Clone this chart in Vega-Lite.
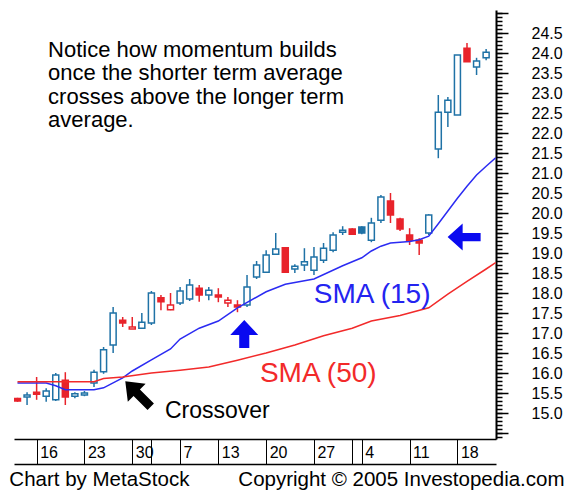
{
  "$schema": "https://vega.github.io/schema/vega-lite/v6.json",
  "width": 482,
  "height": 429,
  "autosize": {"type": "none"},
  "padding": {"left": 14, "top": 10, "right": 73, "bottom": 52},
  "background": "white",
  "config": {"view": {"stroke": null}, "font": "Liberation Sans"},
  "datasets": {
    "candles": [
      {"i": 0, "o": 15.36, "h": 15.38, "l": 15.28, "c": 15.3, "t": "down"},
      {"i": 1, "o": 15.4, "h": 15.52, "l": 15.2, "c": 15.45, "t": "up"},
      {"i": 2, "o": 15.52, "h": 15.9, "l": 15.33, "c": 15.47, "t": "down"},
      {"i": 3, "o": 15.42, "h": 15.62, "l": 15.28, "c": 15.55, "t": "up"},
      {"i": 4, "o": 15.33, "h": 16.0, "l": 15.3, "c": 15.95, "t": "up"},
      {"i": 5, "o": 15.82, "h": 16.02, "l": 15.2, "c": 15.4, "t": "down"},
      {"i": 6, "o": 15.42, "h": 15.52, "l": 15.37, "c": 15.48, "t": "up"},
      {"i": 7, "o": 15.45, "h": 15.55, "l": 15.42, "c": 15.5, "t": "up"},
      {"i": 8, "o": 15.75, "h": 16.08, "l": 15.65, "c": 16.02, "t": "up"},
      {"i": 9, "o": 16.03, "h": 16.65, "l": 15.98, "c": 16.58, "t": "up"},
      {"i": 10, "o": 16.7, "h": 17.65, "l": 16.5, "c": 17.5, "t": "up"},
      {"i": 11, "o": 17.32, "h": 17.4, "l": 17.15, "c": 17.25, "t": "down"},
      {"i": 12, "o": 17.1, "h": 17.4, "l": 17.1, "c": 17.15, "t": "down"},
      {"i": 13, "o": 17.12, "h": 17.5, "l": 17.1, "c": 17.27, "t": "up"},
      {"i": 14, "o": 17.25, "h": 18.05, "l": 17.2, "c": 18.0, "t": "up"},
      {"i": 15, "o": 17.88, "h": 17.95, "l": 17.57, "c": 17.78, "t": "down"},
      {"i": 16, "o": 17.58, "h": 18.0, "l": 17.57, "c": 17.7, "t": "down"},
      {"i": 17, "o": 17.75, "h": 18.15, "l": 17.7, "c": 18.05, "t": "up"},
      {"i": 18, "o": 17.85, "h": 18.35, "l": 17.8, "c": 18.2, "t": "up"},
      {"i": 19, "o": 18.12, "h": 18.2, "l": 17.78, "c": 17.95, "t": "down"},
      {"i": 20, "o": 17.95, "h": 18.15, "l": 17.82, "c": 18.07, "t": "up"},
      {"i": 21, "o": 17.95, "h": 18.12, "l": 17.77, "c": 17.9, "t": "down"},
      {"i": 22, "o": 17.75, "h": 17.9, "l": 17.65, "c": 17.82, "t": "down"},
      {"i": 23, "o": 17.7, "h": 17.82, "l": 17.52, "c": 17.65, "t": "down"},
      {"i": 24, "o": 17.7, "h": 18.45, "l": 17.65, "c": 18.15, "t": "up"},
      {"i": 25, "o": 18.4, "h": 18.8, "l": 18.35, "c": 18.7, "t": "up"},
      {"i": 26, "o": 18.52, "h": 19.07, "l": 18.5, "c": 18.95, "t": "up"},
      {"i": 27, "o": 18.97, "h": 19.5, "l": 18.95, "c": 19.1, "t": "up"},
      {"i": 28, "o": 19.13, "h": 19.15, "l": 18.5, "c": 18.52, "t": "down"},
      {"i": 29, "o": 18.6, "h": 18.72, "l": 18.5, "c": 18.67, "t": "up"},
      {"i": 30, "o": 18.7, "h": 19.12, "l": 18.55, "c": 18.78, "t": "up"},
      {"i": 31, "o": 18.57, "h": 19.15, "l": 18.45, "c": 18.9, "t": "up"},
      {"i": 32, "o": 18.82, "h": 19.25, "l": 18.75, "c": 19.12, "t": "up"},
      {"i": 33, "o": 19.07, "h": 19.52, "l": 19.02, "c": 19.45, "t": "up"},
      {"i": 34, "o": 19.52, "h": 19.67, "l": 19.45, "c": 19.57, "t": "up"},
      {"i": 35, "o": 19.6, "h": 19.62, "l": 19.45, "c": 19.47, "t": "down"},
      {"i": 36, "o": 19.65, "h": 19.67, "l": 19.47, "c": 19.5, "t": "up"},
      {"i": 37, "o": 19.32, "h": 19.88, "l": 19.27, "c": 19.75, "t": "up"},
      {"i": 38, "o": 19.82, "h": 20.45, "l": 19.75, "c": 20.4, "t": "up"},
      {"i": 39, "o": 20.3, "h": 20.5, "l": 19.75, "c": 19.95, "t": "down"},
      {"i": 40, "o": 19.85, "h": 19.88, "l": 19.55, "c": 19.6, "t": "down"},
      {"i": 41, "o": 19.45, "h": 19.62, "l": 19.2, "c": 19.32, "t": "down"},
      {"i": 42, "o": 19.32, "h": 19.37, "l": 18.95, "c": 19.25, "t": "down"},
      {"i": 43, "o": 19.5, "h": 19.97, "l": 19.45, "c": 19.95, "t": "up"},
      {"i": 44, "o": 21.6, "h": 22.95, "l": 21.37, "c": 22.52, "t": "up"},
      {"i": 45, "o": 22.52, "h": 22.9, "l": 22.15, "c": 22.82, "t": "up"},
      {"i": 46, "o": 22.45, "h": 23.95, "l": 22.45, "c": 23.95, "t": "up"},
      {"i": 47, "o": 24.12, "h": 24.25, "l": 23.78, "c": 23.78, "t": "down"},
      {"i": 48, "o": 23.65, "h": 23.88, "l": 23.45, "c": 23.8, "t": "up"},
      {"i": 49, "o": 23.88, "h": 24.1, "l": 23.82, "c": 24.02, "t": "up"}
    ],
    "sma": [
      {"i": 0, "v": 15.75, "s": "15"}, {"i": 3, "v": 15.75, "s": "15"}, {"i": 4, "v": 15.68, "s": "15"},
      {"i": 5, "v": 15.58, "s": "15"}, {"i": 8, "v": 15.58, "s": "15"}, {"i": 9, "v": 15.63, "s": "15"},
      {"i": 11, "v": 15.88, "s": "15"}, {"i": 12, "v": 16.05, "s": "15"}, {"i": 14, "v": 16.33, "s": "15"},
      {"i": 16, "v": 16.6, "s": "15"}, {"i": 17, "v": 16.85, "s": "15"}, {"i": 19, "v": 17.12, "s": "15"},
      {"i": 21, "v": 17.3, "s": "15"}, {"i": 23, "v": 17.63, "s": "15"}, {"i": 26, "v": 18.03, "s": "15"},
      {"i": 28, "v": 18.22, "s": "15"}, {"i": 31, "v": 18.35, "s": "15"}, {"i": 34, "v": 18.68, "s": "15"},
      {"i": 36, "v": 18.88, "s": "15"}, {"i": 37, "v": 19.05, "s": "15"}, {"i": 38, "v": 19.17, "s": "15"},
      {"i": 39, "v": 19.25, "s": "15"}, {"i": 41, "v": 19.29, "s": "15"}, {"i": 42, "v": 19.33, "s": "15"},
      {"i": 43, "v": 19.42, "s": "15"}, {"i": 44, "v": 19.73, "s": "15"}, {"i": 45, "v": 20.05, "s": "15"},
      {"i": 46, "v": 20.37, "s": "15"}, {"i": 47, "v": 20.67, "s": "15"}, {"i": 48, "v": 20.95, "s": "15"},
      {"i": 49, "v": 21.17, "s": "15"}, {"i": 50, "v": 21.38, "s": "15"},
      {"i": 0, "v": 15.78, "s": "50"}, {"i": 8, "v": 15.78, "s": "50"}, {"i": 9, "v": 15.86, "s": "50"},
      {"i": 11, "v": 15.9, "s": "50"}, {"i": 14, "v": 16.0, "s": "50"}, {"i": 17, "v": 16.07, "s": "50"},
      {"i": 20, "v": 16.15, "s": "50"}, {"i": 23, "v": 16.32, "s": "50"}, {"i": 26, "v": 16.5, "s": "50"},
      {"i": 29, "v": 16.7, "s": "50"}, {"i": 32, "v": 16.93, "s": "50"}, {"i": 35, "v": 17.12, "s": "50"},
      {"i": 37, "v": 17.3, "s": "50"}, {"i": 40, "v": 17.44, "s": "50"}, {"i": 43, "v": 17.63, "s": "50"},
      {"i": 45, "v": 17.97, "s": "50"}, {"i": 47, "v": 18.29, "s": "50"}, {"i": 49, "v": 18.6, "s": "50"},
      {"i": 50, "v": 18.76, "s": "50"}
    ],
    "one": [{}]
  },
  "resolve": {"axis": {"x": "independent", "y": "independent"}, "scale": {"color": "independent"}},
  "layer": [
    {
      "data": {"name": "candles"},
      "mark": {"type": "rule", "strokeWidth": 1.5, "clip": true},
      "encoding": {
        "x": {"field": "i", "type": "quantitative",
          "scale": {"domain": [0.157, 49.51], "nice": false, "zero": false},
          "axis": {"orient": "bottom", "values": [2, 7, 12, 14, 17, 21, 26, 31, 35, 36, 41, 46], "grid": false,
            "domain": true, "domainColor": "black", "domainWidth": 1.5, "ticks": true, "tickSize": 25,
            "tickColor": "black", "tickWidth": 1,
            "labelExpr": "datum.value==2?'16':datum.value==7?'23':datum.value==12?'30':datum.value==17?'7':datum.value==21?'13':datum.value==26?'20':datum.value==31?'27':datum.value==36?'4':datum.value==41?'11':datum.value==46?'18':''",
            "labelAlign": "left", "labelBaseline": "middle", "labelPadding": -12, "labelOffset": 3,
            "labelFont": "Liberation Sans", "labelFontSize": 16, "labelColor": "black",
            "labelOverlap": false, "labelBound": false, "labelFlush": false, "title": null}},
        "y": {"field": "l", "type": "quantitative",
          "scale": {"domain": [14.35, 25.075], "nice": false, "zero": false},
          "axis": {"orient": "right", "values": [14.5, 15, 15.5, 16, 16.5, 17, 17.5, 18, 18.5, 19, 19.5, 20, 20.5, 21, 21.5, 22, 22.5, 23, 23.5, 24, 24.5, 25],
            "grid": false, "domain": true, "domainColor": "black", "domainWidth": 2, "ticks": true,
            "tickSize": 12, "tickWidth": 1.5, "tickColor": "black",
            "labelExpr": "datum.value < 14.9 || datum.value > 24.6 ? '' : format(datum.value, '.1f')",
            "labelPadding": 23, "labelAlign": "left", "labelBaseline": "middle",
            "labelFont": "Liberation Sans", "labelFontSize": 16, "labelColor": "black",
            "labelOverlap": false, "labelBound": false, "labelFlush": false, "title": null}},
        "y2": {"field": "h"},
        "color": {"field": "t", "type": "nominal", "scale": {"domain": ["up", "down"], "range": ["#1f72a6", "#e8232b"]}, "legend": null}
      }
    },
    {
      "data": {"name": "candles"},
      "mark": {"type": "bar", "width": 6, "strokeWidth": 1.5, "clip": true},
      "encoding": {
        "x": {"field": "i", "type": "quantitative",
          "axis": {"orient": "bottom", "offset": 25, "domain": true, "domainColor": "black", "domainWidth": 1.5,
            "ticks": false, "labels": false, "grid": false, "title": null}},
        "y": {"field": "o", "type": "quantitative",
          "axis": {"orient": "right", "values": [14.4, 14.5, 14.6, 14.7, 14.8, 14.9, 15.0, 15.1, 15.2, 15.3, 15.4, 15.5, 15.6, 15.7, 15.8, 15.9, 16.0, 16.1, 16.2, 16.3, 16.4, 16.5, 16.6, 16.7, 16.8, 16.9, 17.0, 17.1, 17.2, 17.3, 17.4, 17.5, 17.6, 17.7, 17.8, 17.9, 18.0, 18.1, 18.2, 18.3, 18.4, 18.5, 18.6, 18.7, 18.8, 18.9, 19.0, 19.1, 19.2, 19.3, 19.4, 19.5, 19.6, 19.7, 19.8, 19.9, 20.0, 20.1, 20.2, 20.3, 20.4, 20.5, 20.6, 20.7, 20.8, 20.9, 21.0, 21.1, 21.2, 21.3, 21.4, 21.5, 21.6, 21.7, 21.8, 21.9, 22.0, 22.1, 22.2, 22.3, 22.4, 22.5, 22.6, 22.7, 22.8, 22.9, 23.0, 23.1, 23.2, 23.3, 23.4, 23.5, 23.6, 23.7, 23.8, 23.9, 24.0, 24.1, 24.2, 24.3, 24.4, 24.5, 24.6, 24.7, 24.8, 24.9, 25.0],
            "domain": false, "ticks": true, "tickSize": 6, "tickWidth": 1.5, "tickColor": "black",
            "labels": false, "grid": false, "title": null}},
        "y2": {"field": "c"},
        "stroke": {"field": "t", "type": "nominal", "scale": {"domain": ["up", "down"], "range": ["#1f72a6", "#e8232b"]}, "legend": null},
        "fill": {"condition": {"test": "datum.c > datum.o", "value": "white"}, "field": "t", "type": "nominal", "scale": {"domain": ["up", "down"], "range": ["#1f72a6", "#e8232b"]}, "legend": null}
      }
    },
    {
      "data": {"name": "sma"},
      "mark": {"type": "line", "strokeWidth": 1.5, "clip": true},
      "encoding": {
        "x": {"field": "i", "type": "quantitative", "axis": null},
        "y": {"field": "v", "type": "quantitative", "axis": null},
        "color": {"field": "s", "type": "nominal", "scale": {"domain": ["15", "50"], "range": ["#2b2bf2", "#f22a2a"]}, "legend": null}
      }
    },
    {
      "data": {"name": "one"},
      "mark": {"type": "text", "align": "left", "baseline": "alphabetic", "font": "Liberation Sans", "fontSize": 22, "lineHeight": 23.3, "color": "black"},
      "encoding": {
        "x": {"datum": 3.2, "type": "quantitative", "axis": null},
        "y": {"datum": 23.9, "type": "quantitative", "axis": null},
        "text": {"value": ["Notice how momentum builds", "once the shorter term average", "crosses above the longer term", "average."]}
      }
    },
    {
      "data": {"name": "one"},
      "mark": {"type": "text", "align": "left", "baseline": "alphabetic", "font": "Liberation Sans", "fontSize": 28, "color": "#2424f0"},
      "encoding": {
        "x": {"datum": 30.98, "type": "quantitative", "axis": null},
        "y": {"datum": 17.75, "type": "quantitative", "axis": null},
        "text": {"value": "SMA (15)"}
      }
    },
    {
      "data": {"name": "one"},
      "mark": {"type": "text", "align": "left", "baseline": "alphabetic", "font": "Liberation Sans", "fontSize": 28, "color": "#f22a2a"},
      "encoding": {
        "x": {"datum": 25.35, "type": "quantitative", "axis": null},
        "y": {"datum": 15.775, "type": "quantitative", "axis": null},
        "text": {"value": "SMA (50)"}
      }
    },
    {
      "data": {"name": "one"},
      "mark": {"type": "text", "align": "left", "baseline": "alphabetic", "font": "Liberation Sans", "fontSize": 23, "color": "black"},
      "encoding": {
        "x": {"datum": 15.41, "type": "quantitative", "axis": null},
        "y": {"datum": 14.875, "type": "quantitative", "axis": null},
        "text": {"value": "Crossover"}
      }
    },
    {
      "data": {"name": "one"},
      "mark": {"type": "text", "align": "left", "baseline": "alphabetic", "font": "Liberation Sans", "fontSize": 20.5, "color": "black"},
      "encoding": {
        "x": {"datum": -0.85, "type": "quantitative", "axis": null},
        "y": {"datum": 13.18, "type": "quantitative", "axis": null},
        "text": {"value": "Chart by MetaStock"}
      }
    },
    {
      "data": {"name": "one"},
      "mark": {"type": "text", "align": "right", "baseline": "alphabetic", "font": "Liberation Sans", "fontSize": 20.5, "color": "black"},
      "encoding": {
        "x": {"datum": 57.2, "type": "quantitative", "axis": null},
        "y": {"datum": 13.18, "type": "quantitative", "axis": null},
        "text": {"value": "Copyright © 2005 Investopedia.com"}
      }
    },
    {
      "data": {"name": "one"},
      "mark": {"type": "point", "shape": "M-0.36,1 L0.36,1 L0.36,0.07 L1,0.07 L0,-1 L-1,0.07 L-0.36,0.07 Z", "size": 784, "filled": true, "color": "#0a0af0", "opacity": 1, "strokeWidth": 0},
      "encoding": {
        "x": {"datum": 23.71, "type": "quantitative", "axis": null},
        "y": {"datum": 16.975, "type": "quantitative", "axis": null}
      }
    },
    {
      "data": {"name": "one"},
      "mark": {"type": "point", "shape": "M-0.25,1 L0.25,1 L0.25,-0.09 L0.82,-0.09 L0,-1 L-0.82,-0.09 L-0.25,-0.09 Z", "size": 1089, "angle": -90, "filled": true, "color": "#0a0af0", "opacity": 1, "strokeWidth": 0},
      "encoding": {
        "x": {"datum": 46.7, "type": "quantitative", "axis": null},
        "y": {"datum": 19.4, "type": "quantitative", "axis": null}
      }
    },
    {
      "data": {"name": "one"},
      "mark": {"type": "point", "shape": "M-0.25,1 L0.25,1 L0.25,-0.1 L0.7,-0.1 L0,-1 L-0.7,-0.1 L-0.25,-0.1 Z", "size": 1296, "angle": -45, "filled": true, "color": "black", "opacity": 1, "strokeWidth": 0},
      "encoding": {
        "x": {"datum": 12.6, "type": "quantitative", "axis": null},
        "y": {"datum": 15.475, "type": "quantitative", "axis": null}
      }
    }
  ]
}
